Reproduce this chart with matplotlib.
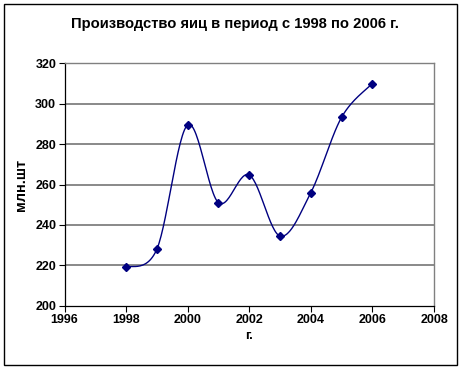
import numpy as np
import matplotlib
matplotlib.use("Agg")
import matplotlib.pyplot as plt
from matplotlib.patches import Rectangle

years = [1998, 1999, 2000, 2001, 2002, 2003, 2004, 2005, 2006]
values = [219, 228, 289.5, 251, 264.7, 234.5, 256, 293.3, 310]
title = "Производство яиц в период с 1998 по 2006 г."
xlabel = "г."
ylabel = "млн.шт"
xticks = [1996, 1998, 2000, 2002, 2004, 2006, 2008]
yticks = [200, 220, 240, 260, 280, 300, 320]

plt.rcParams['font.family'] = ['Liberation Sans', 'DejaVu Sans']

def catmull_rom(x, y, n=30):
    x = np.asarray(x, float); y = np.asarray(y, float)
    px = np.concatenate([[x[0]], x, [x[-1]]])
    py = np.concatenate([[y[0]], y, [y[-1]]])
    xs, ys = [], []
    for i in range(1, len(px) - 2):
        p0 = np.array([px[i], py[i]])
        p3 = np.array([px[i + 1], py[i + 1]])
        c1 = p0 + (np.array([px[i + 1], py[i + 1]]) - np.array([px[i - 1], py[i - 1]])) / 6
        c2 = p3 - (np.array([px[i + 2], py[i + 2]]) - np.array([px[i], py[i]])) / 6
        t = np.linspace(0, 1, n)[:, None]
        b = ((1 - t) ** 3) * p0 + 3 * ((1 - t) ** 2) * t * c1 + 3 * (1 - t) * t ** 2 * c2 + t ** 3 * p3
        xs.append(b[:, 0]); ys.append(b[:, 1])
    return np.concatenate(xs), np.concatenate(ys)

fig = plt.figure(figsize=(4.62, 3.69), dpi=100)
W, H = 462, 369
ax = fig.add_axes([64.5 / W, 1 - 305.7 / H, (434 - 64.5) / W, (305.7 - 63.3) / H])

ax.set_xlim(1996, 2008)
ax.set_ylim(200, 320)
ax.set_xticks(xticks)
ax.set_yticks(yticks)
ax.set_xticklabels([str(v) for v in xticks], fontsize=9, fontweight='bold')
ax.set_yticklabels([str(v) for v in yticks], fontsize=9, fontweight='bold')
ax.tick_params(axis='both', direction='out', length=4, width=0.8, color='black', pad=2)

for v in yticks[1:]:
    ax.axhline(v, color='#808080', lw=1.3, zorder=1)

for s in ['top', 'right']:
    ax.spines[s].set_color('#808080')
    ax.spines[s].set_linewidth(1.0)
for s in ['left', 'bottom']:
    ax.spines[s].set_color('black')
    ax.spines[s].set_linewidth(0.9)

sx, sy = catmull_rom(years, values)
ax.plot(sx, sy, color='#000080', lw=1.0, zorder=3, solid_capstyle='round')
ax.plot(years, values, linestyle='none', marker='D', markersize=4.5,
        color='#000080', zorder=4)

ax.set_xlabel(xlabel, fontsize=9.5, fontweight='bold', labelpad=3)
ax.set_ylabel(ylabel, fontsize=10.5, fontweight='bold', labelpad=5)

fig.text(235 / W, 1 - 24 / H, title, ha='center', va='center', fontsize=10.6, fontweight='bold')

fig.patches.append(Rectangle((4 / W, 1 - 365 / H), (457 - 4) / W, (365 - 4) / H,
                             transform=fig.transFigure, fill=False, edgecolor='black', lw=1.0))

fig.savefig("out.png", dpi=100)
